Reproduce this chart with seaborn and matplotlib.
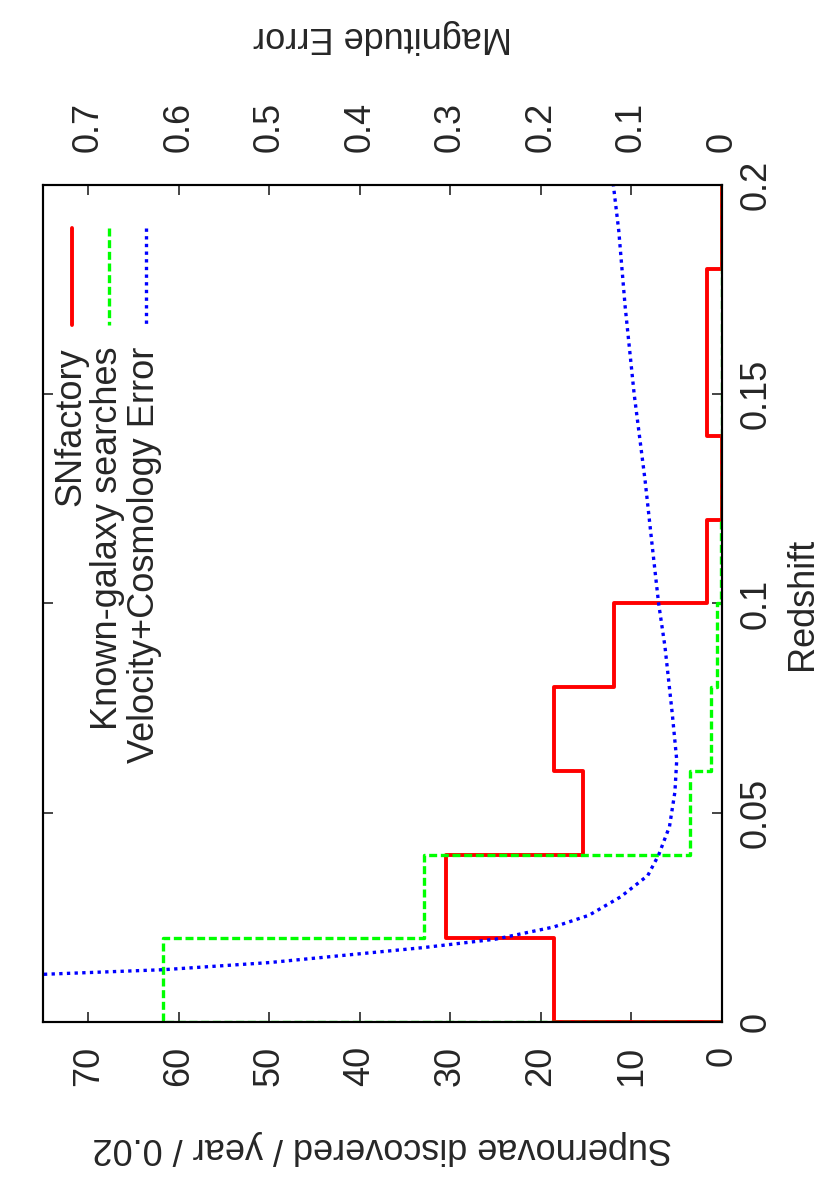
import numpy as np
import matplotlib
matplotlib.use("Agg")
import matplotlib.pyplot as plt
import seaborn as sns

# --- data ---
# redshift bin edges (bin width 0.02)
z_edges = [0.00, 0.02, 0.04, 0.06, 0.08, 0.10, 0.12, 0.14, 0.16, 0.18, 0.20]
snf_counts = [18.6, 30.5, 15.3, 18.6, 11.9, 1.7, 0.0, 1.7, 1.7, 0.0]
known_counts = [61.7, 32.9, 3.5, 1.2, 0.6, 0.1, 0.0, 0.0, 0.0, 0.0]

# velocity + cosmology magnitude error curve
err_z = [0.0114, 0.0125, 0.0142, 0.0163, 0.0178, 0.0198, 0.0227, 0.0255, 0.0299,
         0.0350, 0.0399, 0.0467, 0.0550, 0.0626, 0.0738, 0.0897, 0.1000, 0.1136,
         0.1295, 0.1500, 0.1710, 0.1890, 0.2000]
err_mag = [0.749, 0.617, 0.500, 0.400, 0.329, 0.250, 0.186, 0.147, 0.112,
           0.082, 0.070, 0.058, 0.052, 0.050, 0.055, 0.063, 0.070, 0.077,
           0.085, 0.097, 0.107, 0.114, 0.120]

count_ticks = [0, 10, 20, 30, 40, 50, 60, 70]
mag_ticks = [0, 0.1, 0.2, 0.3, 0.4, 0.5, 0.6, 0.7]
z_ticks = [0, 0.05, 0.1, 0.15, 0.2]

labels = ["SNfactory", "Known-galaxy searches", "Velocity+Cosmology Error"]
colors = ["#ff0000", "#00ff00", "#0000ff"]

# --- style ---
sns.set_style("ticks")
plt.rcParams["font.family"] = ["Liberation Sans", "DejaVu Sans"]
FS = 26
LW_RED, LW_DASH = 2.8, 2.4
GREEN_DASH = (2.4, 1.1)
BLUE_DOT = (1.0, 1.3)

W, H = 830, 1186
L, R, T, B = 43, 722, 185, 1022   # plot frame in pixels


def step_path(edges, counts):
    """histogram outline, redshift running along y"""
    xs, ys = [0.0], [edges[0]]
    for lo, hi, c in zip(edges[:-1], edges[1:], counts):
        xs += [c, c]
        ys += [lo, hi]
    xs.append(0.0)
    ys.append(edges[-1])
    return xs, ys


def frac(px, py):
    return (px - L) / (R - L), (B - py) / (B - T)


fig = plt.figure(figsize=(W / 100, H / 100), dpi=100)
ax = fig.add_axes([L / W, 1 - B / H, (R - L) / W, (B - T) / H])

xs, ys = step_path(z_edges, snf_counts)
sns.lineplot(x=xs, y=ys, sort=False, estimator=None, ax=ax,
             color=colors[0], lw=LW_RED)
xs, ys = step_path(z_edges, known_counts)
sns.lineplot(x=xs, y=ys, sort=False, estimator=None, ax=ax,
             color=colors[1], lw=LW_DASH)
ax.lines[-1].set_dashes(GREEN_DASH)

ax.set_xlim(75, 0)
ax.set_ylim(0, 0.2)
ax.set_xticks(count_ticks)
ax.set_xticklabels([str(t) for t in count_ticks])
ax.set_yticks(z_ticks)
ax.set_yticklabels(["0", "0.05", "0.1", "0.15", "0.2"])
ax.yaxis.tick_right()
ax.yaxis.set_label_position("right")
ax.tick_params(axis="both", direction="in", length=7, width=1.2, labelsize=FS)
ax.tick_params(axis="y", left=True, right=True, labelrotation=90, pad=12)
ax.tick_params(axis="x", labelrotation=90, pad=17)
for lab in ax.get_yticklabels():
    lab.set_va("center")
ax.set_xlabel("Supernovae discovered / year / 0.02", fontsize=FS,
              rotation=180, labelpad=32)
ax.set_ylabel("Redshift", fontsize=FS, rotation=90, labelpad=8)

# magnitude error on the top axis
ax2 = ax.twiny()
sns.lineplot(x=err_mag, y=err_z, sort=False, estimator=None, ax=ax2,
             color=colors[2], lw=LW_DASH)
ax2.lines[-1].set_dashes(BLUE_DOT)
ax2.set_xlim(0.75, 0)
ax2.set_ylim(0, 0.2)
ax2.set_xticks(mag_ticks)
ax2.set_xticklabels(["0", "0.1", "0.2", "0.3", "0.4", "0.5", "0.6", "0.7"])
ax2.tick_params(axis="x", direction="in", length=7, width=1.2,
                labelsize=FS, labelrotation=90, pad=24)
ax2.set_xlabel("Magnitude Error", fontsize=FS, rotation=180, labelpad=40)

for a in (ax, ax2):
    for s in a.spines.values():
        s.set_linewidth(1.5)
        s.set_color("black")

# legend, rotated like the rest of the page
legend_x = [72, 109, 146]
styles = [("-", LW_RED), ((0, GREEN_DASH), LW_DASH), ((0, BLUE_DOT), LW_DASH)]
for lx, lab, col, (ls, lw) in zip(legend_x, labels, colors, styles):
    x0, y0 = frac(lx, 228)
    _, y1 = frac(lx, 325)
    ax.plot([x0, x0], [y0, y1], transform=ax.transAxes, color=col,
            lw=lw, linestyle=ls, clip_on=False)
    tx, ty = frac(lx - 1.5, 347)
    ax.text(tx, ty, lab, transform=ax.transAxes, rotation=90,
            ha="center", va="top", fontsize=FS)

fig.savefig("out.png", dpi=100)
